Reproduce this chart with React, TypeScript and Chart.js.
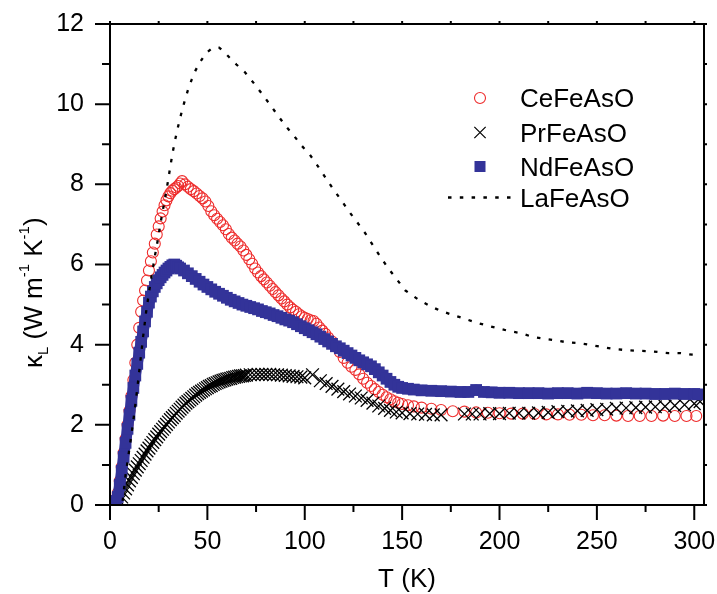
import React, { useEffect, useRef } from 'react';
import { Chart, registerables } from 'chart.js';

Chart.register(...registerables);

const FAMILY = "'Liberation Sans', Arial, sans-serif";

const xTickValues = [0, 50, 100, 150, 200, 250, 300];
const xMinorValues = [25, 75, 125, 175, 225, 275];
const yTickValues = [0, 2, 4, 6, 8, 10, 12];
const yMinorValues = [1, 3, 5, 7, 9, 11];

const seriesNames = ['CeFeAsO', 'PrFeAsO', 'NdFeAsO', 'LaFeAsO'];

// [T (K), kappa_L]
const ceData = [
  [3, 0.15], [4, 0.3], [5, 0.6], [6, 0.95], [7, 1.3], [8, 1.65], [9, 2.0], [10, 2.35], [11, 2.72], [12, 3.12],
  [13, 3.55], [14, 4.0], [15, 4.42], [16, 4.82], [17, 5.1], [18, 5.35], [19, 5.6], [20, 5.85], [21, 6.08], [22, 6.3],
  [23, 6.52], [24, 6.75], [25, 6.95], [26, 7.15], [27, 7.32], [28, 7.48], [29, 7.6], [30, 7.7], [31, 7.78], [32, 7.84],
  [33, 7.88], [34, 7.92], [35, 7.96], [36, 8.02], [37, 8.08],
  [38.5, 8.0], [40, 7.94], [41.5, 7.88], [43, 7.83], [44.5, 7.77], [46, 7.71], [47.5, 7.65], [49, 7.57], [50.5, 7.46],
  [52, 7.33], [53.5, 7.23], [55, 7.14], [56.5, 7.06], [58, 6.98], [59.5, 6.88], [61, 6.76], [62.5, 6.67], [64, 6.6],
  [65.5, 6.52], [67, 6.45], [68.5, 6.35], [70, 6.24], [71.5, 6.13], [73, 6.02], [74.5, 5.9], [76, 5.8], [77.5, 5.71],
  [79, 5.63], [80.5, 5.55], [82, 5.47], [83.5, 5.39], [85, 5.31], [86.5, 5.23], [88, 5.15], [89.5, 5.08], [91, 5.0],
  [92.5, 4.93], [94, 4.87], [95.5, 4.82], [97, 4.76], [98.5, 4.71], [100, 4.67], [101.5, 4.64], [103, 4.61],
  [104.5, 4.59], [106, 4.52], [107.5, 4.43], [109, 4.35], [110.5, 4.27],
  [112, 4.18], [114, 4.08], [116, 3.96], [118, 3.82], [120, 3.67], [122, 3.55], [124, 3.45], [126, 3.37], [128, 3.26],
  [130, 3.15], [132, 3.05], [134, 2.97], [136, 2.89], [138, 2.82], [140, 2.75], [142, 2.69], [144, 2.64], [146, 2.59],
  [148, 2.55], [150, 2.52],
  [153, 2.49], [156, 2.46], [160, 2.43], [165, 2.4], [170, 2.37], [176, 2.34], [182, 2.33], [188, 2.31], [194, 2.3],
  [200, 2.29], [206, 2.28], [212, 2.28], [218, 2.27], [224, 2.26], [230, 2.26], [236, 2.25], [242, 2.25], [248, 2.24],
  [254, 2.24], [260, 2.23], [266, 2.22], [272, 2.22], [278, 2.22], [284, 2.23], [290, 2.22], [296, 2.22], [301, 2.22],
];

const prData = [
  [5, 0.1], [6, 0.2], [7, 0.3], [8, 0.4], [9, 0.5], [10, 0.6], [11, 0.69], [12, 0.78], [13, 0.87], [14, 0.95],
  [15, 1.03], [16, 1.11], [17, 1.19], [18, 1.27], [19, 1.35], [20, 1.42], [21, 1.49], [22, 1.56], [23, 1.63], [24, 1.7],
  [25, 1.77], [26, 1.83], [27, 1.89], [28, 1.95], [29, 2.01], [30, 2.07], [31, 2.13], [32, 2.18], [33, 2.23], [34, 2.29],
  [35, 2.34], [36, 2.39], [37, 2.44], [38, 2.49], [39, 2.54], [40, 2.58], [41, 2.62], [42, 2.66], [43, 2.7], [44, 2.74],
  [45, 2.78], [46, 2.81], [47, 2.84], [48, 2.87], [49, 2.9], [50, 2.93], [51, 2.96], [52, 2.98], [53, 3.01], [54, 3.03],
  [55, 3.05], [56, 3.07], [57, 3.09], [58, 3.11], [59, 3.12], [60, 3.14], [61, 3.15], [62, 3.16], [63, 3.18], [64, 3.19],
  [65, 3.2], [66, 3.21], [67, 3.22], [68, 3.22], [69, 3.23], [70, 3.24], [72, 3.25], [74, 3.25], [76, 3.26], [78, 3.26],
  [80, 3.26], [82, 3.26], [84, 3.25], [86, 3.25], [88, 3.24], [90, 3.23], [92, 3.22], [94, 3.21], [96, 3.2], [98, 3.19],
  [100, 3.17], [104, 3.25], [108, 3.1], [111, 3.03], [114, 2.96], [117, 2.89], [120, 2.83], [123, 2.77], [126, 2.72],
  [129, 2.67], [132, 2.61], [135, 2.54], [138, 2.47], [141, 2.41], [144, 2.36], [147, 2.32], [150, 2.3], [154, 2.28],
  [158, 2.27], [162, 2.26], [166, 2.25], [170, 2.25], [182, 2.27], [186, 2.27], [190, 2.27], [195, 2.28], [200, 2.28],
  [205, 2.29], [210, 2.29], [215, 2.29], [220, 2.3], [225, 2.31], [230, 2.33], [235, 2.34], [240, 2.35], [245, 2.36],
  [250, 2.38], [255, 2.39], [260, 2.41], [265, 2.42], [270, 2.43], [275, 2.44], [280, 2.45], [285, 2.46], [290, 2.48],
  [295, 2.5], [300, 2.53], [303, 2.58],
];

const ndData = [
  [3, 0.1], [4, 0.2], [5, 0.5], [6, 0.85], [7, 1.2], [8, 1.55], [9, 1.9], [10, 2.25], [11, 2.6], [12, 2.92],
  [13, 3.23], [14, 3.52], [15, 3.8], [16, 4.07], [17, 4.33], [18, 4.58], [19, 4.82], [20, 5.05], [21, 5.2], [22, 5.33],
  [23, 5.44], [24, 5.53], [25, 5.61], [26, 5.68], [27, 5.74], [28, 5.8], [29, 5.85], [30, 5.9], [31, 5.94], [32, 5.98],
  [33, 6.0], [34, 5.97], [35, 5.93],
  [36, 5.9], [38, 5.85], [40, 5.78], [42, 5.71], [44, 5.64], [46, 5.57], [48, 5.5], [50, 5.44], [52, 5.38], [54, 5.32],
  [56, 5.27], [58, 5.22], [60, 5.17], [62, 5.12], [64, 5.08], [66, 5.04], [68, 5.0], [70, 4.97], [72, 4.94], [74, 4.91],
  [76, 4.88], [78, 4.84], [80, 4.81], [82, 4.78], [84, 4.74], [86, 4.71], [88, 4.67], [90, 4.63], [92, 4.6], [94, 4.56],
  [96, 4.51], [98, 4.46], [100, 4.41], [102, 4.36], [104, 4.31], [106, 4.26], [108, 4.2], [110, 4.14], [112, 4.08],
  [114, 4.02], [116, 3.96], [118, 3.91], [120, 3.85], [122, 3.79], [124, 3.73], [126, 3.67], [128, 3.61], [130, 3.56],
  [132, 3.51], [134, 3.46], [136, 3.39], [138, 3.31], [140, 3.23], [142, 3.15], [144, 3.07], [146, 3.0], [148, 2.95],
  [150, 2.92], [153, 2.9], [156, 2.88], [160, 2.86], [165, 2.85], [170, 2.84], [175, 2.83], [180, 2.82], [184, 2.82],
  [188, 2.87], [192, 2.82], [196, 2.81], [200, 2.8], [205, 2.8], [210, 2.79], [215, 2.79], [220, 2.79], [225, 2.78],
  [230, 2.79], [235, 2.79], [240, 2.78], [245, 2.8], [250, 2.79], [255, 2.78], [260, 2.78], [265, 2.79], [270, 2.78],
  [275, 2.78], [280, 2.77], [285, 2.77], [290, 2.78], [295, 2.77], [300, 2.77], [302, 2.76],
];

const laData = [
  [6.5, 0.1], [8, 0.75], [9.5, 1.25], [11, 1.75], [12.5, 2.3], [14, 2.9], [15.5, 3.55], [17, 4.2], [18.5, 4.8],
  [20, 5.3], [21.5, 5.75], [23, 6.2], [24.5, 6.6], [26, 7.05], [27.5, 7.45], [29, 7.85], [30.5, 8.3], [32, 8.75],
  [33.5, 9.12], [35, 9.45], [36.5, 9.75], [38, 10.02], [40, 10.35], [42, 10.62], [44, 10.85], [46, 11.03], [48, 11.18],
  [50, 11.3], [52, 11.38], [54, 11.42], [56, 11.41], [58, 11.33], [60.6, 11.2], [64.9, 10.99], [69.2, 10.8],
  [73.4, 10.55], [77.7, 10.28], [82, 10.0], [86.3, 9.71], [90.6, 9.43], [94, 9.24], [98.3, 8.97], [102.6, 8.74],
  [106.8, 8.45], [110.2, 8.2], [114.5, 7.89], [118.5, 7.62], [122.6, 7.33], [127.1, 7.04], [131.2, 6.77],
  [135.1, 6.47], [138.9, 6.19], [142.8, 5.91], [147.1, 5.64], [151.7, 5.35], [157.9, 5.14], [163.7, 4.98],
  [169.4, 4.85], [175.4, 4.75], [181.3, 4.66], [187.4, 4.56], [193.4, 4.48], [199, 4.41], [205, 4.34], [210.8, 4.29],
  [216.5, 4.2], [222.5, 4.15], [228.5, 4.11], [234.5, 4.06], [240.1, 4.04], [246, 4.0], [251.6, 3.95], [257.6, 3.9],
  [263.6, 3.87], [269.6, 3.85], [275.6, 3.84], [281, 3.82], [286.7, 3.79], [292.7, 3.79], [299, 3.75], [302, 3.73],
];

const RED = '#ee2b2b';
const NAVY = '#333399';
const BLACK = '#000000';
const DASH = [3.5, 8.3];

const toPoints = (arr: number[][]) => arr.map(([x, y]) => ({ x, y }));

const framePlugin = {
  id: 'framePlugin',
  afterDraw(chart: any) {
    const ctx = chart.ctx;
    const { left, right, top, bottom } = chart.chartArea;
    const xs = chart.scales.x;
    const ys = chart.scales.y;
    ctx.save();
    ctx.strokeStyle = BLACK;
    ctx.fillStyle = BLACK;
    ctx.lineWidth = 2;
    ctx.lineCap = 'butt';
    ctx.beginPath();
    ctx.rect(left, top, right - left, bottom - top);
    ctx.stroke();
    ctx.beginPath();
    xTickValues.forEach((v) => {
      const px = xs.getPixelForValue(v);
      ctx.moveTo(px, bottom);
      ctx.lineTo(px, bottom + 15);
    });
    xMinorValues.forEach((v) => {
      const px = xs.getPixelForValue(v);
      ctx.moveTo(px, bottom);
      ctx.lineTo(px, bottom + 7);
    });
    [...xTickValues, ...xMinorValues].forEach((v) => {
      const px = xs.getPixelForValue(v);
      ctx.moveTo(px, top);
      ctx.lineTo(px, top - 3);
    });
    yTickValues.forEach((v) => {
      const py = ys.getPixelForValue(v);
      ctx.moveTo(left, py);
      ctx.lineTo(left - 15, py);
    });
    yMinorValues.forEach((v) => {
      const py = ys.getPixelForValue(v);
      ctx.moveTo(left, py);
      ctx.lineTo(left - 8, py);
    });
    [...yTickValues, ...yMinorValues].forEach((v) => {
      const py = ys.getPixelForValue(v);
      ctx.moveTo(right, py);
      ctx.lineTo(right + 3, py);
    });
    ctx.stroke();

    // x title
    ctx.font = `26px ${FAMILY}`;
    ctx.textAlign = 'center';
    ctx.textBaseline = 'alphabetic';
    ctx.fillText('T (K)', (left + right) / 2, 587);

    // y title with sub/superscripts
    ctx.save();
    ctx.translate(42, 368);
    ctx.rotate(-Math.PI / 2);
    ctx.textAlign = 'left';
    let cx = 0;
    const seg = (text: string, size: number, dy: number) => {
      ctx.font = `${size}px ${FAMILY}`;
      ctx.fillText(text, cx, dy);
      cx += ctx.measureText(text).width;
    };
    seg('κ', 26, 0);
    seg('L', 15, 6);
    seg(' (W m', 26, 0);
    seg('-1', 15, -13);
    seg(' K', 26, 0);
    seg('-1', 15, -13);
    seg(')', 26, 0);
    ctx.restore();

    // legend
    const mx = 480;
    const tx = 520;
    const rows = [98, 132.5, 166.5, 197.5];
    ctx.font = `26px ${FAMILY}`;
    ctx.textAlign = 'left';
    ctx.textBaseline = 'alphabetic';
    seriesNames.forEach((name, i) => {
      ctx.fillStyle = BLACK;
      ctx.fillText(name, tx, rows[i] + 9.3);
    });
    ctx.beginPath();
    ctx.strokeStyle = RED;
    ctx.lineWidth = 1.1;
    ctx.arc(mx, rows[0], 5.5, 0, Math.PI * 2);
    ctx.stroke();
    const d = 8 * Math.SQRT1_2;
    ctx.beginPath();
    ctx.strokeStyle = BLACK;
    ctx.lineWidth = 1.2;
    ctx.moveTo(mx - d, rows[1] - d);
    ctx.lineTo(mx + d, rows[1] + d);
    ctx.moveTo(mx + d, rows[1] - d);
    ctx.lineTo(mx - d, rows[1] + d);
    ctx.stroke();
    ctx.fillStyle = NAVY;
    ctx.fillRect(mx - 5.5, rows[2] - 5.5, 11, 11);
    ctx.beginPath();
    ctx.strokeStyle = BLACK;
    ctx.lineWidth = 2.3;
    ctx.setLineDash(DASH);
    ctx.moveTo(448, rows[3]);
    ctx.lineTo(512, rows[3]);
    ctx.stroke();
    ctx.setLineDash([]);
    ctx.restore();
  },
};

export default function App() {
  const canvasRef = useRef<HTMLCanvasElement | null>(null);

  useEffect(() => {
    const canvas = canvasRef.current;
    if (!canvas) return;
    const tickFont = { family: FAMILY, size: 25 };
    const chart = new Chart(canvas, {
      type: 'scatter',
      data: {
        datasets: [
          {
            label: seriesNames[0],
            data: toPoints(ceData),
            showLine: false,
            pointStyle: 'circle',
            pointRadius: 5.5,
            pointBorderWidth: 1.1,
            borderColor: RED,
            backgroundColor: 'rgba(0,0,0,0)',
            order: 4,
          },
          {
            label: seriesNames[1],
            data: toPoints(prData),
            showLine: false,
            pointStyle: 'crossRot',
            pointRadius: 9,
            pointBorderWidth: 1.3,
            borderColor: BLACK,
            backgroundColor: BLACK,
            order: 3,
          },
          {
            label: seriesNames[2],
            data: toPoints(ndData),
            showLine: true,
            borderWidth: 11,
            borderColor: NAVY,
            backgroundColor: NAVY,
            borderJoinStyle: 'round',
            pointStyle: 'rect',
            pointRadius: 8.3,
            pointBorderWidth: 0,
            pointBackgroundColor: NAVY,
            tension: 0,
            order: 2,
          },
          {
            label: seriesNames[3],
            data: toPoints(laData),
            showLine: true,
            borderWidth: 2.3,
            borderColor: BLACK,
            borderDash: DASH,
            pointRadius: 0,
            tension: 0,
            order: 1,
          },
        ],
      },
      options: {
        animation: false,
        responsive: false,
        maintainAspectRatio: false,
        events: [],
        layout: { padding: { top: 24, right: 13, left: 0, bottom: 0 } },
        plugins: {
          legend: { display: false },
          tooltip: { enabled: false },
          title: { display: false },
        },
        scales: {
          x: {
            type: 'linear',
            position: 'bottom',
            min: 0,
            max: 305,
            afterFit: (s: any) => {
              s.height = 89;
              s.paddingLeft = 0;
              s.paddingRight = 0;
            },
            afterBuildTicks: (s: any) => {
              s.ticks = xTickValues.map((v) => ({ value: v }));
            },
            ticks: { color: BLACK, font: tickFont, padding: 7, maxRotation: 0, autoSkip: false },
            grid: { display: true, drawOnChartArea: false, drawTicks: true, tickLength: 15, color: 'rgba(0,0,0,0)' },
            border: { display: false },
          },
          y: {
            type: 'linear',
            position: 'left',
            min: 0,
            max: 12,
            afterFit: (s: any) => {
              s.width = 110;
              s.paddingTop = 0;
              s.paddingBottom = 0;
            },
            afterBuildTicks: (s: any) => {
              s.ticks = yTickValues.map((v) => ({ value: v }));
            },
            ticks: { color: BLACK, font: tickFont, padding: 11, autoSkip: false },
            grid: { display: true, drawOnChartArea: false, drawTicks: true, tickLength: 15, color: 'rgba(0,0,0,0)' },
            border: { display: false },
          },
        },
      },
      plugins: [framePlugin],
    } as any);
    return () => {
      chart.destroy();
    };
  }, []);

  return (
    <div style={{ position: 'absolute', left: 0, top: 0, width: 717, height: 594, background: '#fff' }}>
      <canvas ref={canvasRef} width={717} height={594} style={{ display: 'block', width: 717, height: 594 }} />
    </div>
  );
}
